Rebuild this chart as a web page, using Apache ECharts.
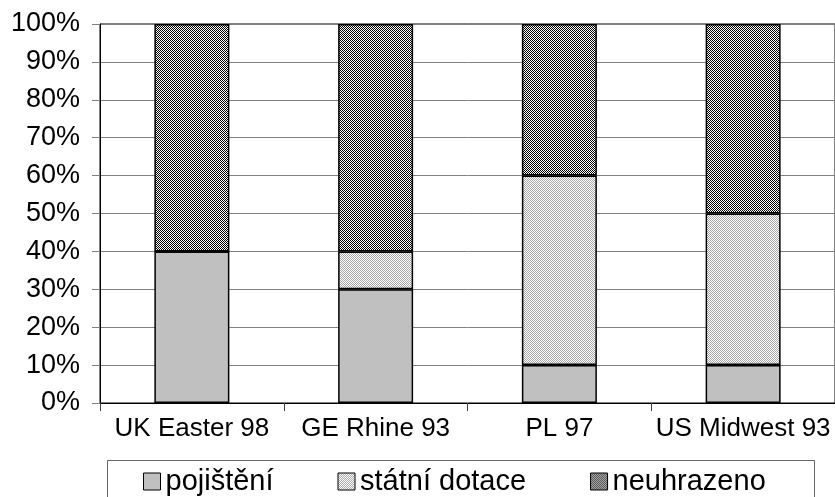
<!DOCTYPE html>
<html><head><meta charset="utf-8">
<script src="https://cdn.jsdelivr.net/npm/echarts@6/dist/echarts.min.js"></script>
<style>html,body{margin:0;padding:0;background:#fff}#c{width:835px;height:497px}</style>
</head><body><div id="c"></div>
<script>
var categories = ['UK Easter 98', 'GE Rhine 93', 'PL 97', 'US Midwest 93'];
var pojisteni = [40, 30, 10, 10];
var statniDotace = [0, 10, 50, 40];
var neuhrazeno = [60, 60, 40, 50];
var seriesNames = ['pojištění', 'státní dotace', 'neuhrazeno'];

function checker(a, b) {
  var cv = document.createElement('canvas');
  cv.width = 2; cv.height = 2;
  var ctx = cv.getContext('2d');
  ctx.fillStyle = b; ctx.fillRect(0, 0, 2, 2);
  ctx.fillStyle = a; ctx.fillRect(0, 0, 1, 1); ctx.fillRect(1, 1, 1, 1);
  return {image: cv, repeat: 'repeat'};
}
var font = 'Liberation Sans, Arial, sans-serif';
var chart = echarts.init(document.getElementById('c'));
function mk(name, data, color) {
  return {
    name: name, type: 'bar', stack: 's', data: data, barWidth: 75,
    itemStyle: {color: color, borderColor: '#000', borderWidth: 1.5},
    emphasis: {disabled: true}
  };
}
chart.setOption({
  animation: false,
  grid: {left: 100, top: 24, width: 737, height: 379, show: true, borderColor: '#000', borderWidth: 1, containLabel: false},
  xAxis: {
    type: 'category', data: categories,
    axisLine: {lineStyle: {color: '#000', width: 1}},
    axisTick: {show: true, length: 8, lineStyle: {color: '#404040'}},
    axisLabel: {color: '#000', fontSize: 26, fontFamily: font, margin: 13, interval: 0}
  },
  yAxis: {
    type: 'value', min: 0, max: 100, interval: 10,
    axisLine: {show: true, lineStyle: {color: '#000', width: 1}},
    axisTick: {show: true, length: 8, lineStyle: {color: '#808080'}},
    splitLine: {lineStyle: {color: '#808080', width: 1}},
    axisLabel: {color: '#000', fontSize: 27, fontFamily: font, margin: 20, formatter: '{value}%'}
  },
  legend: {
    data: seriesNames.map(function (n) { return {name: n, icon: 'rect'}; }),
    left: 143, top: 467, padding: 0, itemWidth: 17, itemHeight: 17, itemGap: 64, itemTextGap: 14,
    itemStyle: {borderColor: '#000', borderWidth: 1},
    textStyle: {fontSize: 29, fontFamily: font, color: '#000'}, selectedMode: false
  },
  graphic: [{type: 'rect', shape: {x: 107.5, y: 460.5, width: 707, height: 60}, style: {fill: 'none', stroke: '#666', lineWidth: 1}, silent: true}],
  series: [
    mk(seriesNames[0], pojisteni, '#c0c0c0'),
    mk(seriesNames[1], statniDotace, checker('#a8a8a8', '#ffffff')),
    mk(seriesNames[2], neuhrazeno, checker('#000000', '#ffffff'))
  ]
});
</script></body></html>
